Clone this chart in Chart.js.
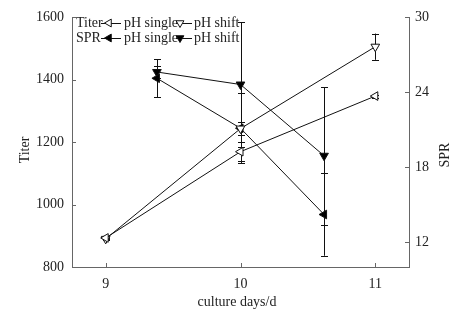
<!DOCTYPE html>
<html><head><meta charset="utf-8">
<script src="https://cdn.jsdelivr.net/npm/chart.js@4/dist/chart.umd.min.js"></script>
<style>html,body{margin:0;padding:0;background:#fff;}#wrap{width:471px;height:312px;position:relative;}</style>
</head><body><div id="wrap"><canvas id="c" width="471" height="312"></canvas></div>
<script>
const titerDays = [9, 10, 11];
const sprDays = [9.38, 10, 10.62];
const titerSingle = [893, 1169, 1347];
const titerSingleErr = [4, 30, 5];
const titerShift = [890, 1243, 1505];
const titerShiftErr = [4, 22, 42];
const sprSingle = [25.1, 21.1, 14.2];
const sprSingleErr = [1.5, 2.8, 3.3];
const sprShift = [25.6, 24.6, 18.9];
const sprShiftErr = [0.5, 5.0, 5.5];
const xTicks = [9, 10, 11];
const titerTicks = [800, 1000, 1200, 1400, 1600];
const sprTicks = [12, 18, 24, 30];
const seriesNames = ['Titer pH single', 'Titer pH shift', 'SPR pH single', 'SPR pH shift'];

const FONT = '"Liberation Serif", "Times New Roman", serif';
const AXIS = '#666';
const TXT = '#222';

function pts(xs, ys) { return xs.map((x, i) => ({x: x, y: ys[i]})); }

const datasets = [
  {label: seriesNames[0], data: pts(titerDays, titerSingle), err: titerSingleErr, yAxisID: 'y', rotation: 270, backgroundColor: '#fff'},
  {label: seriesNames[1], data: pts(titerDays, titerShift), err: titerShiftErr, yAxisID: 'y', rotation: 180, backgroundColor: '#fff'},
  {label: seriesNames[2], data: pts(sprDays, sprSingle), err: sprSingleErr, yAxisID: 'y2', rotation: 270, backgroundColor: '#000'},
  {label: seriesNames[3], data: pts(sprDays, sprShift), err: sprShiftErr, yAxisID: 'y2', rotation: 180, backgroundColor: '#000'}
].map(d => Object.assign({
  borderColor: '#111', borderWidth: 1, pointStyle: 'triangle', pointRadius: 5,
  pointBorderColor: '#111', pointBorderWidth: 1, showLine: true, tension: 0,
  pointBackgroundColor: d.backgroundColor
}, d));

function fixTicks(vals) { return function(scale) { scale.ticks = vals.map(v => ({value: v})); }; }

const errorBars = {
  id: 'errorBars',
  beforeDatasetsDraw(chart) {
    const ctx = chart.ctx;
    ctx.save();
    ctx.strokeStyle = '#111';
    ctx.lineWidth = 1;
    chart.data.datasets.forEach(ds => {
      const ys = chart.scales[ds.yAxisID];
      const xs = chart.scales.x;
      ds.data.forEach((p, i) => {
        const e = ds.err[i];
        const px = Math.round(xs.getPixelForValue(p.x)) + 0.5;
        const t = ys.getPixelForValue(p.y + e);
        const b = ys.getPixelForValue(p.y - e);
        ctx.beginPath();
        ctx.moveTo(px, t); ctx.lineTo(px, b);
        ctx.moveTo(px - 3.5, Math.round(t) + 0.5); ctx.lineTo(px + 3.5, Math.round(t) + 0.5);
        ctx.moveTo(px - 3.5, Math.round(b) + 0.5); ctx.lineTo(px + 3.5, Math.round(b) + 0.5);
        ctx.stroke();
      });
    });
    ctx.restore();
  }
};

function tri(ctx, x, y, r, rot, fill) {
  ctx.save();
  ctx.translate(x, y);
  ctx.rotate(rot * Math.PI / 180);
  ctx.beginPath();
  ctx.moveTo(0, -r);
  ctx.lineTo(r * 0.866, r * 0.5);
  ctx.lineTo(-r * 0.866, r * 0.5);
  ctx.closePath();
  ctx.fillStyle = fill;
  ctx.fill();
  ctx.strokeStyle = '#111';
  ctx.lineWidth = 1;
  ctx.stroke();
  ctx.restore();
}

const decor = {
  id: 'decor',
  afterDraw(chart) {
    const ctx = chart.ctx;
    const a = chart.chartArea;
    const xs = chart.scales.x, yl = chart.scales.y, yr = chart.scales.y2;
    ctx.save();
    ctx.strokeStyle = AXIS; ctx.lineWidth = 1;
    ctx.beginPath();
    xTicks.forEach(v => { const p = Math.round(xs.getPixelForValue(v)) + 0.5; ctx.moveTo(p, a.bottom); ctx.lineTo(p, a.bottom - 4); });
    titerTicks.forEach(v => { const p = Math.round(yl.getPixelForValue(v)) + 0.5; ctx.moveTo(a.left, p); ctx.lineTo(a.left + 4, p); });
    sprTicks.forEach(v => { const p = Math.round(yr.getPixelForValue(v)) + 0.5; ctx.moveTo(a.right, p); ctx.lineTo(a.right - 4, p); });
    ctx.stroke();
    ctx.fillStyle = TXT;
    ctx.font = '14px ' + FONT;
    ctx.textAlign = 'center'; ctx.textBaseline = 'middle';
    ctx.fillText('culture days/d', 237, 302);
    ctx.save(); ctx.translate(25, 150); ctx.rotate(-Math.PI / 2); ctx.fillText('Titer', 0, 0); ctx.restore();
    ctx.save(); ctx.translate(445, 155); ctx.rotate(-Math.PI / 2); ctx.fillText('SPR', 0, 0); ctx.restore();
    ctx.textAlign = 'left';
    const rows = [
      {name: 'Titer', y: 23, fill: '#fff'},
      {name: 'SPR', y: 38, fill: '#000'}
    ];
    rows.forEach(r => {
      ctx.fillStyle = TXT;
      ctx.fillText(r.name, 76, r.y);
      ctx.fillText('pH single', 124, r.y);
      ctx.fillText('pH shift', 194, r.y);
      ctx.strokeStyle = '#111';
      ctx.beginPath();
      ctx.moveTo(101, r.y + 0.5); ctx.lineTo(121, r.y + 0.5);
      ctx.moveTo(176, r.y + 0.5); ctx.lineTo(192, r.y + 0.5);
      ctx.stroke();
      tri(ctx, 109, r.y, 4.5, 270, r.fill);
      tri(ctx, 180, r.y, 4.5, 180, r.fill);
    });
    ctx.restore();
  }
};

const tickFont = {family: FONT, size: 14};
const plain = v => String(v);

new Chart(document.getElementById('c'), {
  type: 'scatter',
  data: {datasets: datasets},
  options: {
    responsive: false, animation: false, devicePixelRatio: 1,
    layout: {padding: {top: 17, left: 0, right: 0, bottom: 0}},
    plugins: {legend: {display: false}, tooltip: {enabled: false}},
    scales: {
      x: {
        type: 'linear', min: 8.75, max: 11.25,
        afterBuildTicks: fixTicks(xTicks),
        afterFit(s) { s.height = 45; },
        grid: {display: false, drawTicks: false, tickLength: 0},
        border: {display: true, color: AXIS, width: 1},
        ticks: {font: tickFont, color: TXT, padding: 9, maxRotation: 0, callback: plain}
      },
      y: {
        type: 'linear', position: 'left', min: 800, max: 1600,
        afterBuildTicks: fixTicks(titerTicks),
        afterFit(s) { s.width = 72; },
        grid: {display: false, drawTicks: false, tickLength: 0},
        border: {display: true, color: AXIS, width: 1},
        ticks: {font: tickFont, color: TXT, padding: 8, callback: plain}
      },
      y2: {
        type: 'linear', position: 'right', min: 10, max: 30,
        afterBuildTicks: fixTicks(sprTicks),
        afterFit(s) { s.width = 62; },
        grid: {display: false, drawTicks: false, tickLength: 0},
        border: {display: true, color: AXIS, width: 1},
        ticks: {font: tickFont, color: TXT, padding: 6, callback: plain}
      }
    }
  },
  plugins: [errorBars, decor]
});
</script>
</body></html>
